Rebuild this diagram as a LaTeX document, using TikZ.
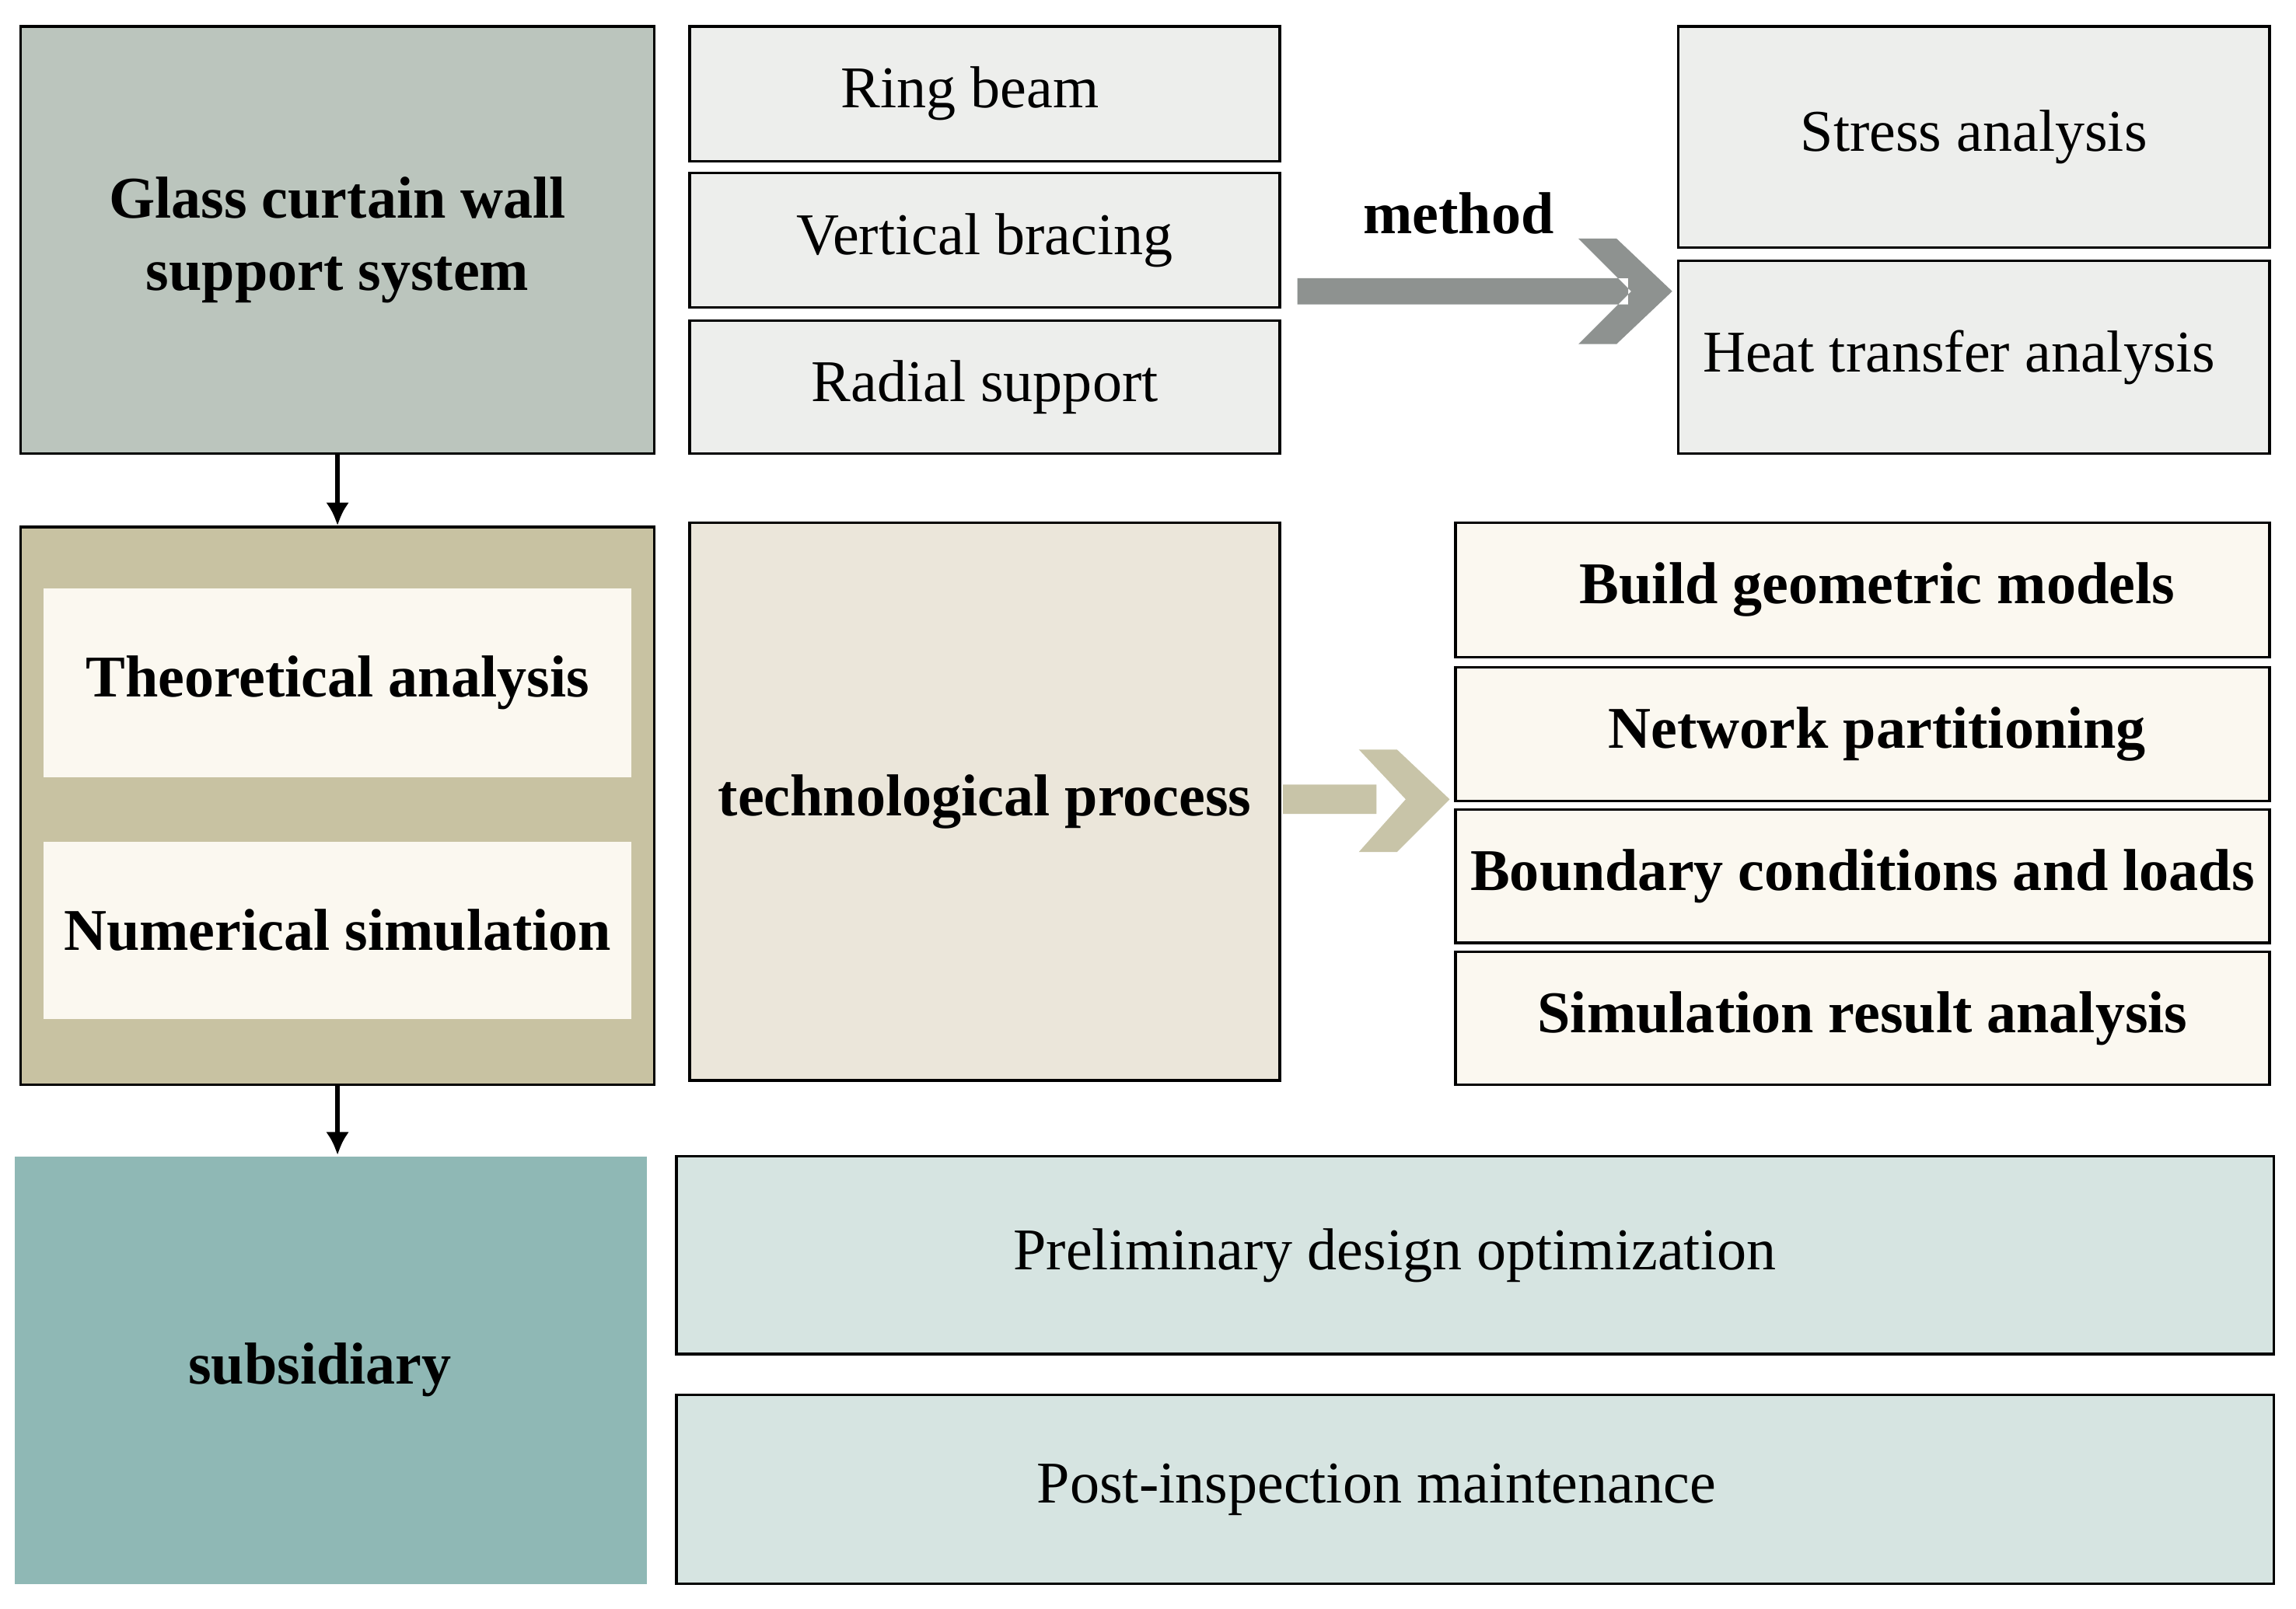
\documentclass[tikz,border=0pt]{standalone}
\usepackage{fontspec}
\setmainfont{Liberation Serif}
\usetikzlibrary{arrows.meta}
\begin{document}
\begin{tikzpicture}[x=0.02cm,y=-0.02cm,
  box/.style={draw=black,line width=1pt,inner sep=0pt,font=\fontsize{23}{28}\selectfont,align=center},
  bbox/.style={box,font=\fontsize{23}{28}\selectfont\bfseries},
  grey/.style={fill=gryf},
  cream/.style={fill=crm},
  conn/.style={line width=2pt,-{Latex[length=9pt,width=9pt]}}]
\definecolor{gryf}{HTML}{EDEEEC}
\definecolor{crm}{HTML}{FBF8F0}
\definecolor{glass}{HTML}{BBC5BD}
\definecolor{theo}{HTML}{C8C2A2}
\definecolor{tech}{HTML}{EBE6DA}
\definecolor{sub}{HTML}{8FB8B5}
\definecolor{pre}{HTML}{D6E4E1}
\definecolor{marr}{HTML}{8E9290}
\definecolor{tarr}{HTML}{C8C4A8}
\useasboundingbox (0,0) rectangle (1568,1099);
\newcommand{\bx}[5]{\node[#1,minimum width={(#4-#2)*0.02cm},minimum height={(#5-#3)*0.02cm}] at ({(#2+#4)/2},{(#3+#5)/2})}
% top row
\bx{bbox,fill=glass}{14}{18}{447}{310} (glass) {Glass curtain wall\\support system};
\bx{box,grey}{471}{18}{874}{110} (ring) {\hspace*{-0.4cm}Ring beam};
\bx{box,grey}{471}{118}{874}{210} (vert) {Vertical bracing};
\bx{box,grey}{471}{219}{874}{310} (rad) {Radial support};
\bx{box,grey}{1146}{18}{1550}{169} (stress) {Stress analysis};
\bx{box,grey}{1146}{178}{1550}{310} (heat) {\hspace*{-0.4cm}Heat transfer analysis};
\node[font=\fontsize{23}{28}\selectfont\bfseries] (meth) at (996,146) {method};
\fill[marr] (886,190) rectangle (1112,208)
  (1078,163) -- (1104,163) -- (1142,199) -- (1104,235) -- (1078,235) -- (1114,199) -- cycle;
% middle row
\bx{box,fill=theo}{14}{360}{447}{741} (theo) {};
\bx{bbox,cream,draw=none}{30}{402}{431}{531} (ta) {Theoretical analysis};
\bx{bbox,cream,draw=none}{30}{575}{431}{696} (ns) {Numerical simulation};
\bx{bbox,fill=tech}{471}{357}{874}{738} (tp) {technological process};
\bx{bbox,cream}{994}{357}{1550}{449} (b1) {\hspace*{0.4cm}Build geometric models};
\bx{bbox,cream}{994}{456}{1550}{547} (b2) {\hspace*{0.4cm}Network partitioning};
\bx{bbox,cream}{994}{553}{1550}{644} (b3) {Boundary conditions and loads};
\bx{bbox,cream}{994}{650}{1550}{741} (b4) {Simulation result analysis};
\fill[tarr] (876,536) rectangle (940,556)
  (928,512) -- (954,512) -- (990,546) -- (954,582) -- (928,582) -- (960,546) -- cycle;
% bottom row
\bx{bbox,fill=sub,draw=none}{10}{790}{442}{1082} (sub) {\hspace*{-0.3cm}subsidiary};
\bx{box,fill=pre}{462}{790}{1553}{925} (pd) {\hspace*{-2.2cm}Preliminary design optimization};
\bx{box,fill=pre}{462}{953}{1553}{1082} (pm) {\hspace*{-2.7cm}Post-inspection maintenance};
% connectors
\draw[conn] (glass.south) -- (theo.north);
\draw[conn] (theo.south) -- (sub.north -| theo.south);
\end{tikzpicture}
\end{document}
